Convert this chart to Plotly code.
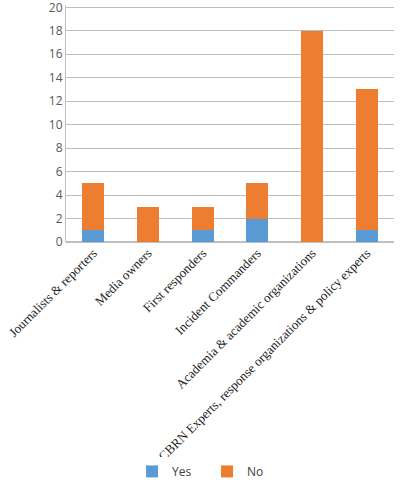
import plotly.graph_objects as go

categories = ["Journalists & reporters", "Media owners", "First responders",
              "Incident Commanders", "Academia & academic organizations",
              "CBRN Experts, response organizations & policy experts"]
yes_values = [1, 0, 1, 2, 0, 1]
no_values = [4, 3, 2, 3, 18, 12]
y_ticks = [0, 2, 4, 6, 8, 10, 12, 14, 16, 18, 20]

fig = go.Figure()
fig.add_trace(go.Bar(x=categories, y=yes_values, name="Yes",
                     marker=dict(color="#5B9BD5", line=dict(width=0))))
fig.add_trace(go.Bar(x=categories, y=no_values, name="No",
                     marker=dict(color="#ED7D31", line=dict(width=0))))

fig.update_layout(
    width=401, height=480,
    barmode="stack", bargap=0.6,
    plot_bgcolor="white", paper_bgcolor="white",
    margin=dict(l=66, r=7, t=5, b=238, autoexpand=False),
    showlegend=True,
    legend=dict(orientation="h", x=0.43, xanchor="center", y=-0.968, yanchor="middle",
                font=dict(family="Open Sans, Liberation Sans, sans-serif", size=12, color="#404040"),
                traceorder="normal", itemwidth=30, tracegroupgap=0,
                entrywidth=30, entrywidthmode="pixels"),
    xaxis=dict(tickangle=-45, showgrid=False, showline=False, ticks="", automargin=False,
               tickfont=dict(family="Liberation Serif, serif", size=13, color="#222222")),
    yaxis=dict(range=[0, 20.2], tickvals=y_ticks, showgrid=True, gridcolor="#BFBFBF",
               gridwidth=1, showline=True, linecolor="#BFBFBF", linewidth=1,
               zeroline=True, zerolinecolor="#BFBFBF", ticks="", automargin=False,
               ticklabeloverflow="allow",
               tickfont=dict(family="Open Sans, Liberation Sans, sans-serif", size=12, color="#595959")),
)

fig.write_html("out.html", config={"displayModeBar": False},
               post_script="document.body.style.margin='0';document.body.style.padding='0';")
